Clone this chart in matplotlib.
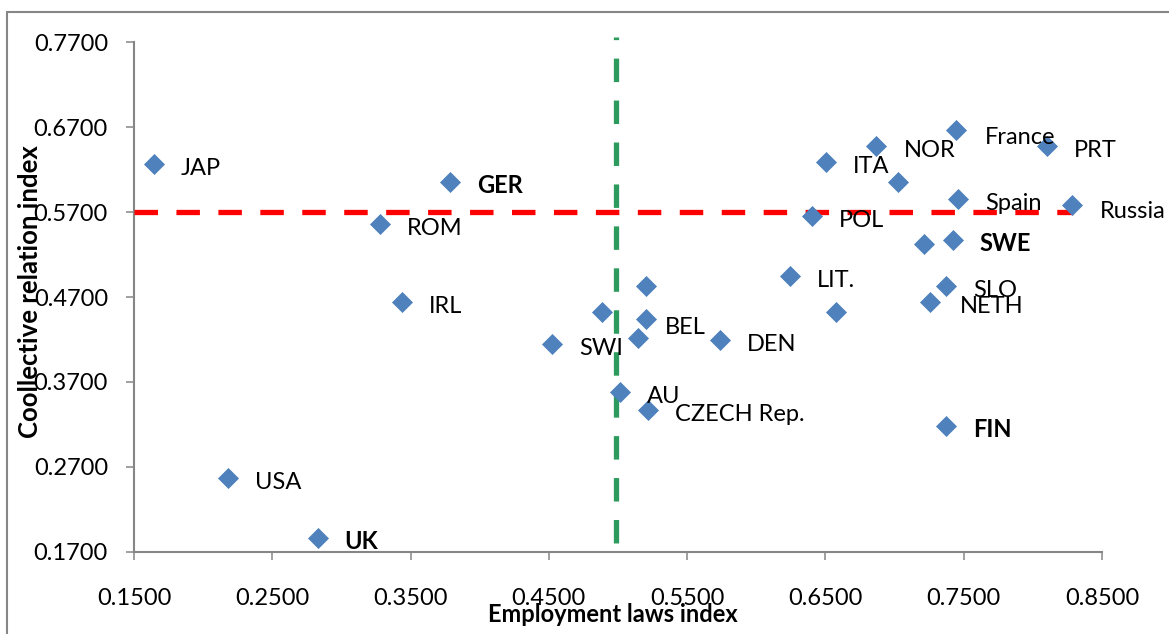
import matplotlib
matplotlib.use("Agg")
import matplotlib.pyplot as plt
from matplotlib.patches import Rectangle

# ---------------- data ----------------
countries = ["JAP", "GER", "ROM", "IRL", "USA", "UK", "SWI", "France", "NOR", "PRT",
             "ITA", "", "Spain", "Russia", "POL", "", "SWE", "LIT.", "SLO", "NETH",
             "", "", "BEL", "", "DEN", "", "AU", "CZECH Rep.", "FIN"]
employment_index = [0.1645, 0.3785, 0.3279, 0.3436, 0.2180, 0.2828, 0.4522, 0.7447, 0.6869, 0.8100,
                    0.6504, 0.7026, 0.7461, 0.8284, 0.6404, 0.7211, 0.7420, 0.6243, 0.7371, 0.7257,
                    0.5203, 0.4885, 0.5203, 0.5143, 0.5738, 0.6577, 0.5013, 0.5219, 0.7371]
collective_index = [0.6267, 0.6055, 0.5560, 0.4645, 0.2568, 0.1865, 0.4146, 0.6667, 0.6478, 0.6478,
                    0.6294, 0.6055, 0.5850, 0.5779, 0.5654, 0.5324, 0.5371, 0.4951, 0.4833, 0.4645,
                    0.4833, 0.4527, 0.4437, 0.4220, 0.4193, 0.4527, 0.3585, 0.3369, 0.3184]
bold_labels = ["GER", "SWE", "UK", "FIN"]

x_ticks = [0.15, 0.25, 0.35, 0.45, 0.55, 0.65, 0.75, 0.85]
y_ticks = [0.17, 0.27, 0.37, 0.47, 0.57, 0.67, 0.77]

ref_line_y = 0.57
ref_line_y_xrange = [0.15, 0.8287]
ref_line_x = 0.4985
ref_line_x_yrange = [0.7766, 0.17]

x_title = "Employment laws index"
y_title = "Coollective relation index"

# label offsets (pixels, right / down), layout only
label_offsets = {"BEL": (19, 5.7), "France": (28, 5), "Russia": (28, 4), "NETH": (30, 3.3)}
default_offset = (27, 2.5)

# ---------------- style ----------------
plt.rcParams['font.family'] = ['Lato', 'DejaVu Sans']
plt.rcParams['lines.scale_dashes'] = False
FS = 17
GRAY = "#868686"
BLUE = "#4F81BD"

W, H = 1169, 634
fig = plt.figure(figsize=(W / 100, H / 100), dpi=100)
ax = fig.add_axes([134 / W, 1 - 551.7 / H, (1102 - 134) / W, (551.7 - 42.3) / H])

ax.set_xlim(x_ticks[0], x_ticks[-1])
ax.set_ylim(y_ticks[0], y_ticks[-1])

# outer chart frame
fig.patches.append(Rectangle((7 / W, -0.1), 1.2, 1 - 12 / H + 0.1, transform=fig.transFigure,
                             fill=False, edgecolor=GRAY, linewidth=1.5))

# reference lines
ax.plot(ref_line_y_xrange, [ref_line_y, ref_line_y], color="#FF0000", linewidth=3.8,
        linestyle=(0, (16.9, 13.3)), dash_capstyle="butt", zorder=3, clip_on=False)
ax.plot([ref_line_x, ref_line_x], ref_line_x_yrange, color="#2E9B5E", linewidth=3.8,
        linestyle=(15, (16.9, 13.3)), dash_capstyle="butt", zorder=2, clip_on=False)

# points
ax.plot(employment_index, collective_index, linestyle="none", marker="D", markersize=10,
        markerfacecolor=BLUE, markeredgecolor="#4A7EBB", markeredgewidth=0.5, zorder=4,
        clip_on=False)

for name, xv, yv in zip(countries, employment_index, collective_index):
    if not name:
        continue
    dx, dy = label_offsets.get(name, default_offset)
    ax.annotate(name, (xv, yv), xytext=(dx, -(dy + 8.5)), textcoords="offset pixels",
                ha="left", va="baseline", fontsize=FS,
                fontweight="bold" if name in bold_labels else "normal", zorder=5)

# axes styling
for s in ["top", "right"]:
    ax.spines[s].set_visible(False)
for s in ["left", "bottom"]:
    ax.spines[s].set_color(GRAY)
    ax.spines[s].set_linewidth(1.5)

ax.set_xticks(x_ticks)
ax.set_yticks(y_ticks)
ax.set_xticklabels([f"{v:.4f}" for v in x_ticks])
ax.set_yticklabels([f"{v:.4f}" for v in y_ticks])
ax.tick_params(axis="x", direction="out", length=5.8, width=1.1, color=GRAY, pad=20,
               labelsize=FS)
ax.tick_params(axis="y", direction="out", length=5.8, width=1.1, color=GRAY, pad=13,
               labelsize=FS)

ax.set_xlabel(x_title, fontsize=FS, fontweight="bold")
ax.xaxis.set_label_coords((612.5 - 134) / 968, (551.7 - 614) / 509.4)
ax.xaxis.label.set_va("center")
ax.set_ylabel(y_title, fontsize=18.5, fontweight="bold")
ax.yaxis.set_label_coords((30 - 134) / 968, (551.7 - 292) / 509.4)
ax.yaxis.label.set_va("center")

fig.savefig("out.png", dpi=100)
